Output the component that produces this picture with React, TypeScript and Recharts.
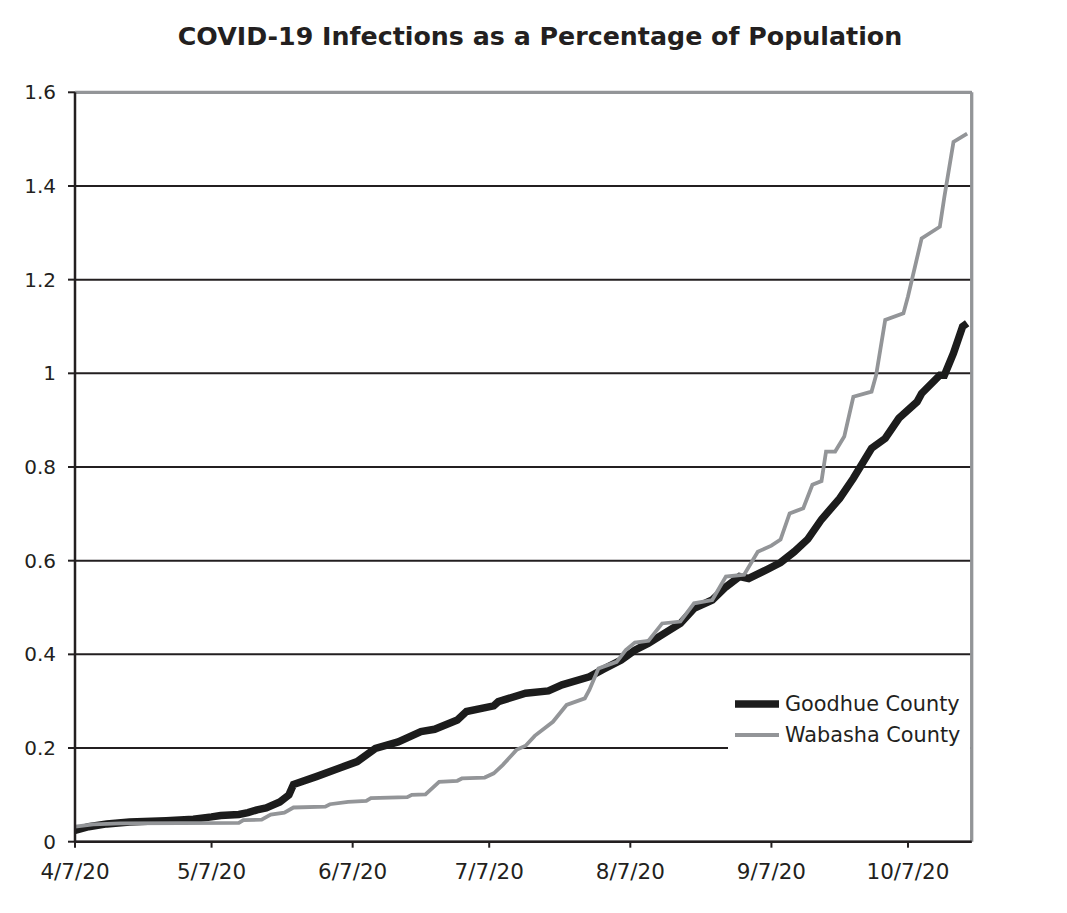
import React from "react";
import {
  CartesianGrid,
  Legend,
  Line,
  LineChart,
  ReferenceLine,
  XAxis,
  YAxis,
} from "recharts";

// days counted from 4/7/20
const goodhueDays = [
  0, 3, 7, 12, 20, 26, 30, 32, 36, 38, 40, 42, 45, 47, 48, 53, 58, 62, 66, 71,
  76, 79, 84, 86, 92, 93, 99, 104, 107, 113, 116, 120, 123, 126, 130, 133, 136,
  140, 143, 146, 148, 152, 155, 158, 161, 164, 168, 171, 175, 178, 181, 185, 186,
  190, 191, 193, 195, 196,
];
const goodhueValues = [
  0.024, 0.032, 0.038, 0.042, 0.045, 0.048, 0.053, 0.056, 0.058, 0.062, 0.068,
  0.072, 0.085, 0.1, 0.122, 0.139, 0.157, 0.171, 0.199, 0.213, 0.235, 0.24, 0.26,
  0.278, 0.29, 0.299, 0.317, 0.322, 0.335, 0.352, 0.368, 0.388, 0.409, 0.424,
  0.448, 0.466, 0.498, 0.516, 0.544, 0.566, 0.562, 0.581, 0.596, 0.619, 0.646,
  0.688, 0.733, 0.776, 0.84, 0.861, 0.904, 0.939, 0.957, 0.996, 0.996, 1.043, 1.1,
  1.107,
];

const wabashaDays = [
  0, 4, 10, 36, 37, 41, 43, 46, 48, 55, 56, 60, 64, 65, 73, 74, 77, 80, 84, 85,
  90, 92, 94, 97, 99, 101, 105, 108, 112, 113, 115, 117, 119, 121, 123, 126, 129,
  133, 136, 140, 143, 147, 150, 153, 155, 157, 160, 162, 164, 165, 167, 169, 171,
  175, 176, 178, 182, 183, 186, 190, 191, 193, 196,
];
const wabashaValues = [
  0.032, 0.037, 0.039, 0.04, 0.046, 0.047, 0.058, 0.062, 0.073, 0.075, 0.08,
  0.085, 0.087, 0.093, 0.095, 0.1, 0.101, 0.128, 0.13, 0.135, 0.137, 0.146, 0.164,
  0.196, 0.205, 0.226, 0.256, 0.292, 0.306, 0.324, 0.37, 0.377, 0.384, 0.409,
  0.425, 0.429, 0.466, 0.47, 0.509, 0.516, 0.566, 0.57, 0.619, 0.632, 0.645,
  0.701, 0.712, 0.762, 0.77, 0.833, 0.833, 0.865, 0.95, 0.961, 0.996, 1.114,
  1.128, 1.164, 1.288, 1.313, 1.377, 1.494, 1.512,
];

const xTickDays = [0, 30, 61, 91, 122, 153, 183];
const xTickLabels = ["4/7/20", "5/7/20", "6/7/20", "7/7/20", "8/7/20", "9/7/20", "10/7/20"];
const yTicks = [0, 0.2, 0.4, 0.6, 0.8, 1, 1.2, 1.4, 1.6];

const goodhueData = goodhueDays.map((day, i) => ({ day, value: goodhueValues[i] }));
const wabashaData = wabashaDays.map((day, i) => ({ day, value: wabashaValues[i] }));

const font = "'DejaVu Sans', Verdana, sans-serif";
const ink = "#231f20";
const gray = "#939598";
const dark = "#1c1c1c";

const series = [
  { name: "Goodhue County", color: dark, width: 7.5 },
  { name: "Wabasha County", color: gray, width: 4 },
];

function LegendBox() {
  return (
    <div style={{ background: "#fff", padding: "8px 0 10px 7px", fontFamily: font }}>
      {series.map((s) => (
        <div key={s.name} style={{ display: "flex", alignItems: "center", height: 31 }}>
          <svg width={44} height={10} style={{ marginRight: 6 }}>
            <line x1={0} x2={44} y1={5} y2={5} stroke={s.color} strokeWidth={s.width} />
          </svg>
          <span style={{ fontSize: 20.8, color: ink }}>{s.name}</span>
        </div>
      ))}
    </div>
  );
}

export default function App() {
  return (
    <div style={{ position: "relative", width: 1051, height: 897, fontFamily: font }}>
      <div
        style={{
          position: "absolute",
          left: 0,
          top: 14,
          width: 1064,
          textAlign: "center",
          fontSize: 25.3,
          lineHeight: "30px",
          fontWeight: "bold",
          color: ink,
        }}
      >
        COVID-19 Infections as a Percentage of Population
      </div>
      <LineChart
        width={1051}
        height={897}
        margin={{ top: 84.3, right: 87.3, bottom: 23.3, left: 7 }}
      >
        <CartesianGrid vertical={false} stroke={ink} strokeWidth={2} />
        <XAxis
          type="number"
          dataKey="day"
          domain={[0, 197]}
          ticks={xTickDays}
          allowDataOverflow
          tickFormatter={(v) => xTickLabels[xTickDays.indexOf(v)] ?? ""}
          height={40}
          tickSize={6}
          tickMargin={16}
          axisLine={{ stroke: ink, strokeWidth: 2.5 }}
          tickLine={{ stroke: ink, strokeWidth: 2 }}
          tick={{ fill: ink, fontSize: 21.5, fontFamily: font }}
        />
        <YAxis
          type="number"
          domain={[0, 1.6]}
          ticks={yTicks}
          allowDataOverflow
          width={60}
          tickSize={7}
          tickMargin={12}
          axisLine={{ stroke: ink, strokeWidth: 2.5 }}
          tickLine={{ stroke: ink, strokeWidth: 2 }}
          tick={{ fill: ink, fontSize: 20, fontFamily: font }}
        />
        <ReferenceLine y={1.6} stroke={gray} strokeWidth={3.3} />
        <ReferenceLine x={197} stroke={gray} strokeWidth={3.3} />
        <Line
          data={goodhueData}
          dataKey="value"
          name="Goodhue County"
          type="linear"
          stroke={dark}
          strokeWidth={7.5}
          dot={false}
          activeDot={false}
          isAnimationActive={false}
        />
        <Line
          data={wabashaData}
          dataKey="value"
          name="Wabasha County"
          type="linear"
          stroke={gray}
          strokeWidth={3.8}
          dot={false}
          activeDot={false}
          isAnimationActive={false}
        />
        <Legend
          layout="vertical"
          align="center"
          verticalAlign="middle"
          content={() => <LegendBox />}
          wrapperStyle={{ left: 720, top: 672, width: 242 }}
        />
      </LineChart>
    </div>
  );
}
